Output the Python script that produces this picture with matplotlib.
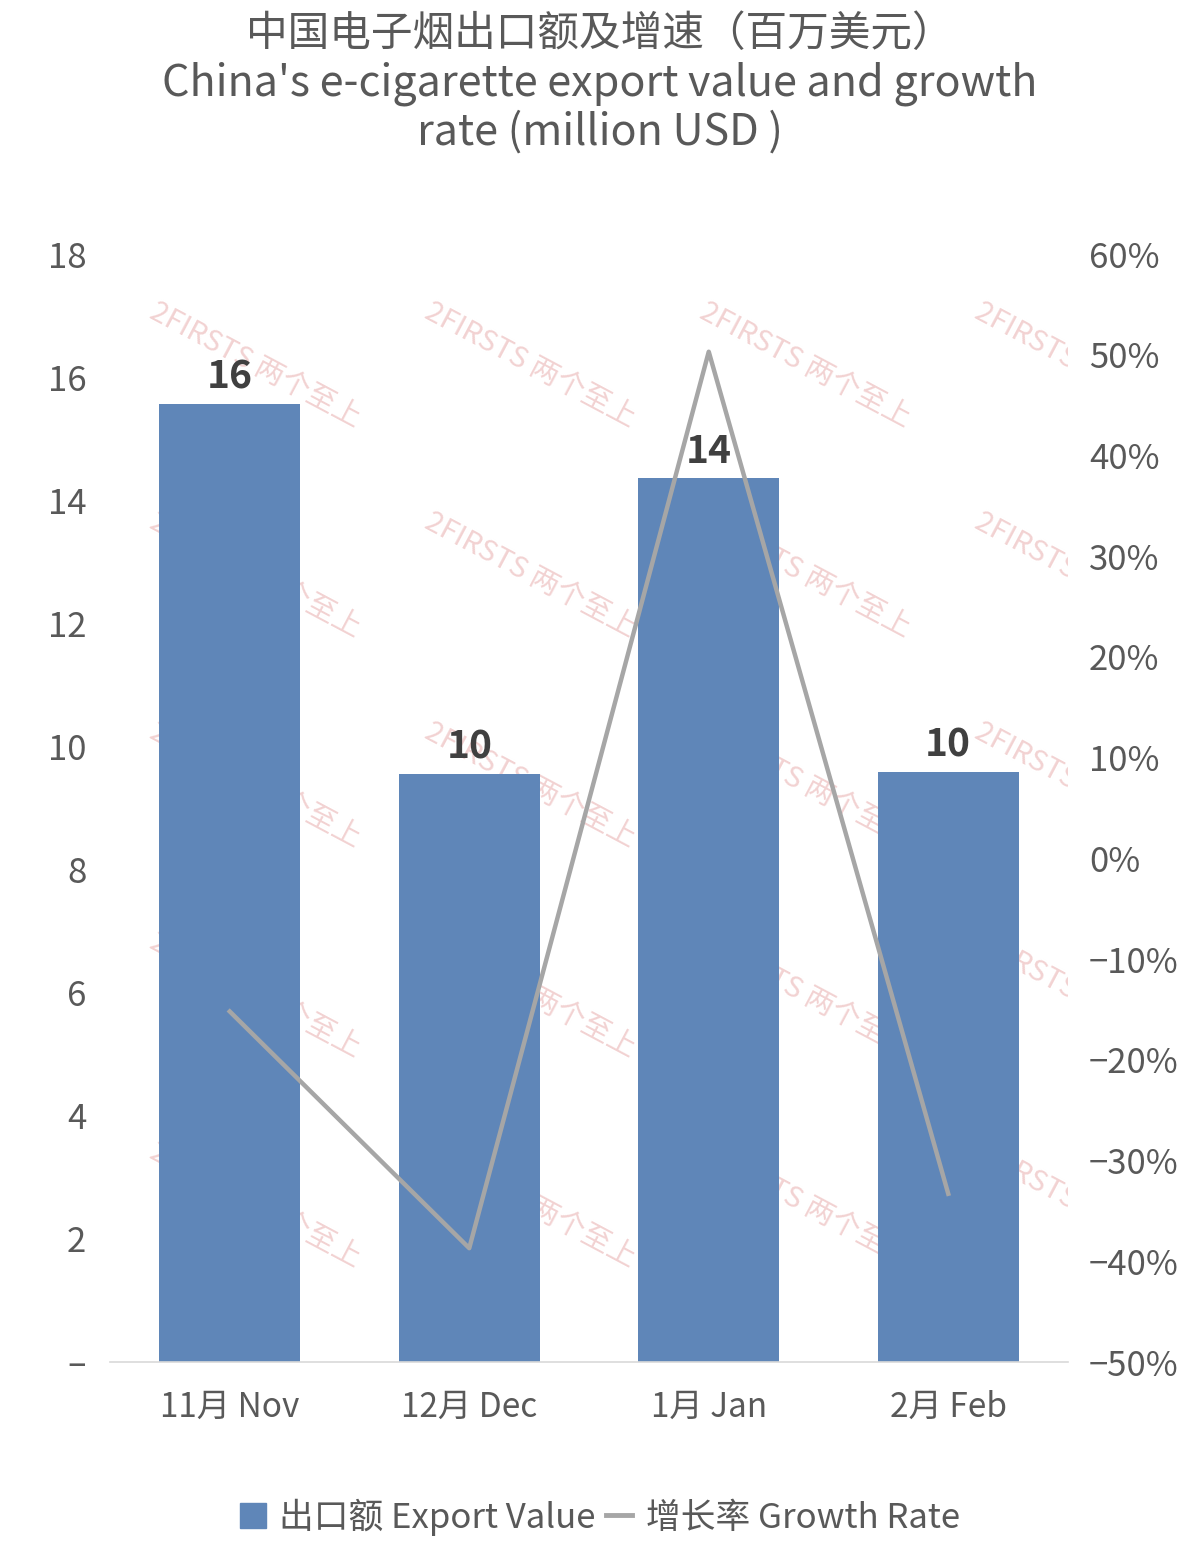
import matplotlib
matplotlib.use("Agg")
import matplotlib.pyplot as plt
from matplotlib.ticker import FuncFormatter
from matplotlib.patches import Patch
from matplotlib.lines import Line2D

plt.rcParams['font.family'] = ['Noto Sans CJK SC', 'DejaVu Sans']

# data
months = ['11月 Nov', '12月 Dec', '1月 Jan', '2月 Feb']
export_value = [15.56, 9.55, 14.36, 9.58]
growth_rate = [-15.2, -38.7, 50.3, -33.3]
left_ticks = [0, 2, 4, 6, 8, 10, 12, 14, 16, 18]
right_ticks = [-50, -40, -30, -20, -10, 0, 10, 20, 30, 40, 50, 60]

text_color = '#595959'
bar_color = '#5f86b8'
line_color = '#a6a6a6'

fig = plt.figure(figsize=(12, 15.62), dpi=100)
W, H = 1200, 1562
ax = fig.add_axes([110 / W, 1 - 1362 / H, (1068 - 110) / W, (1362 - 254) / H])
ax2 = ax.twinx()

# watermark behind the bars, clipped to the plot area
for cx in [255, 530, 805, 1080]:
    for cy in [365, 575, 785, 995, 1205]:
        ax.text(cx / W, 1 - cy / H, '2FIRSTS 两个至上', transform=fig.transFigure,
                rotation=-28, ha='center', va='center', fontsize=21,
                color='#f2d2d2', zorder=0.5, clip_on=True)

x = range(len(months))
ax.bar(x, export_value, width=0.59, color=bar_color, zorder=2)
for i, v in enumerate(export_value):
    ax.text(i, v + 0.12, f'{v:.0f}', ha='center', va='bottom', fontsize=28,
            fontweight='semibold', color='#404040', zorder=3)

ax2.plot(x, growth_rate, color=line_color, linewidth=3.2, zorder=3)

ax.set_xlim(-0.5, 3.5)
ax.set_ylim(0, 18)
ax2.set_ylim(-50, 60)
ax.set_yticks(left_ticks)
ax2.set_yticks(right_ticks)
ax.yaxis.set_major_formatter(FuncFormatter(lambda v, p: '–' if v == 0 else f'{v:.0f}'))
ax2.yaxis.set_major_formatter(FuncFormatter(lambda v, p: f'{v:.0f}%'.replace('-', '−')))
ax.set_xticks(list(x))
ax.set_xticklabels(months)

for a in (ax, ax2):
    for s in a.spines.values():
        s.set_visible(False)
    a.tick_params(length=0, labelsize=25, colors=text_color)
ax.spines['bottom'].set_visible(True)
ax.spines['bottom'].set_color('#d9d9d9')
ax.spines['bottom'].set_linewidth(1.2)
ax.tick_params(axis='y', pad=17)
ax2.tick_params(axis='y', pad=15)
ax.tick_params(axis='x', pad=20, labelsize=24)
ax.set_zorder(ax2.get_zorder() - 1)
ax.patch.set_visible(False)
ax2.patch.set_visible(False)

fig.text(0.5, 1 - 35 / H, '中国电子烟出口额及增速（百万美元）', ha='center', va='center',
         fontsize=30, color=text_color)
fig.text(0.5, 1 - 84 / H, "China's e-cigarette export value and growth", ha='center',
         va='center', fontsize=31, color=text_color)
fig.text(0.5, 1 - 133 / H, 'rate (million USD )', ha='center', va='center',
         fontsize=31, color=text_color)

handles = [Patch(color=bar_color, label='出口额 Export Value'),
           Line2D([0], [0], color=line_color, linewidth=3.5, label='增长率 Growth Rate')]
fig.legend(handles=handles, loc='center', bbox_to_anchor=(0.5, 1 - 1517 / H), ncol=2,
           frameon=False, fontsize=25, labelcolor=text_color, handlelength=0.75,
           handleheight=0.75, handletextpad=0.4, columnspacing=0.3)

fig.savefig('out.png', dpi=100)
